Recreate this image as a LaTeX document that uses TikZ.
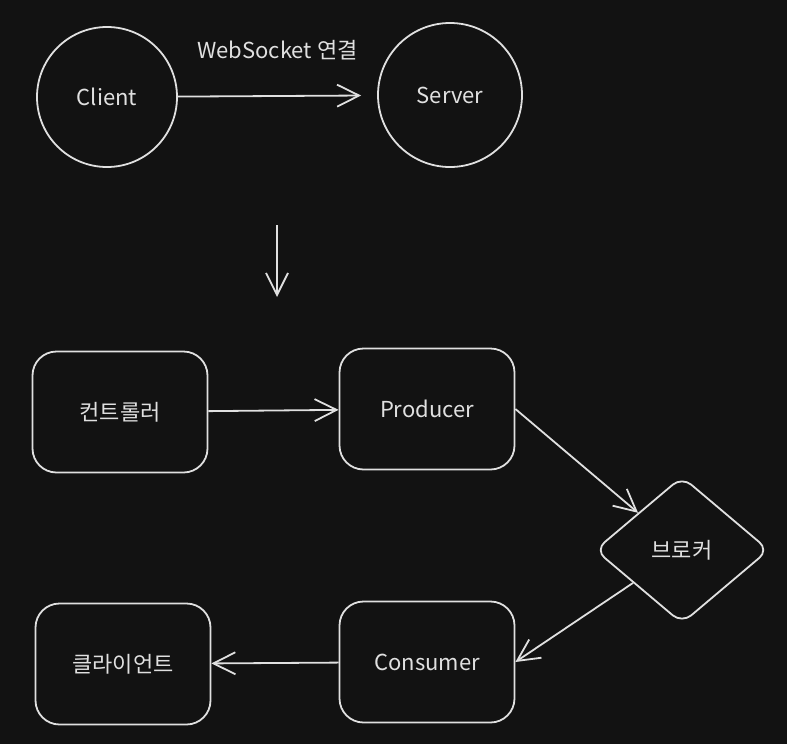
\documentclass[tikz,border=0pt]{standalone}
\usepackage{fontspec}
\usepackage{tikz}
\usetikzlibrary{arrows.meta,shapes.geometric}
\setmainfont{Noto Sans CJK KR}
\definecolor{bg}{HTML}{121212}
\definecolor{ink}{HTML}{E0E0E0}
\tikzset{
  box/.style={draw, rounded corners=24pt, minimum width=175pt, minimum height=121pt},
  ball/.style={draw, circle, minimum size=140pt, inner sep=0pt},
}

\begin{document}
\begin{tikzpicture}[x=1pt, y=-1pt, font=\fontsize{22}{26}\selectfont, color=ink,
    line width=1.8pt, >={Straight Barb[length=22pt, width=22pt]}]
    \fill[bg] (0, 0) rectangle (787, 744);
    \useasboundingbox (0, 0) rectangle (787, 744);

    \node (client) [ball] at (107, 97) {Client};
    \node (server) [ball, minimum size=144pt] at (450, 95) {Server};
    \draw[->, shorten >=16pt] (client) -- (server) node[midway, above=32pt] (ws) {WebSocket 연결};

    \coordinate (down top) at (277, 225);
    \coordinate (down end) at (277, 297);
    \draw[->] (down top) -- (down end);

    \node (ctrl) [box] at (120, 412) {컨트롤러};
    \node (producer) [box] at (427, 409) {Producer};
    \node (broker) [draw, diamond, rounded corners=12pt, minimum width=174pt,
        minimum height=147pt, inner sep=0pt] at (682, 550) {브로커};
    \node (consumer) [box] at (427, 662) {Consumer};
    \node (front) [box] at (123, 664) {클라이언트};

    \draw[->] (ctrl) -- (producer);
    \draw[->] (producer.east) -- (broker);
    \draw[->] (broker) -- (consumer.east);
    \draw[->] (consumer) -- (front);
\end{tikzpicture}
\end{document}
